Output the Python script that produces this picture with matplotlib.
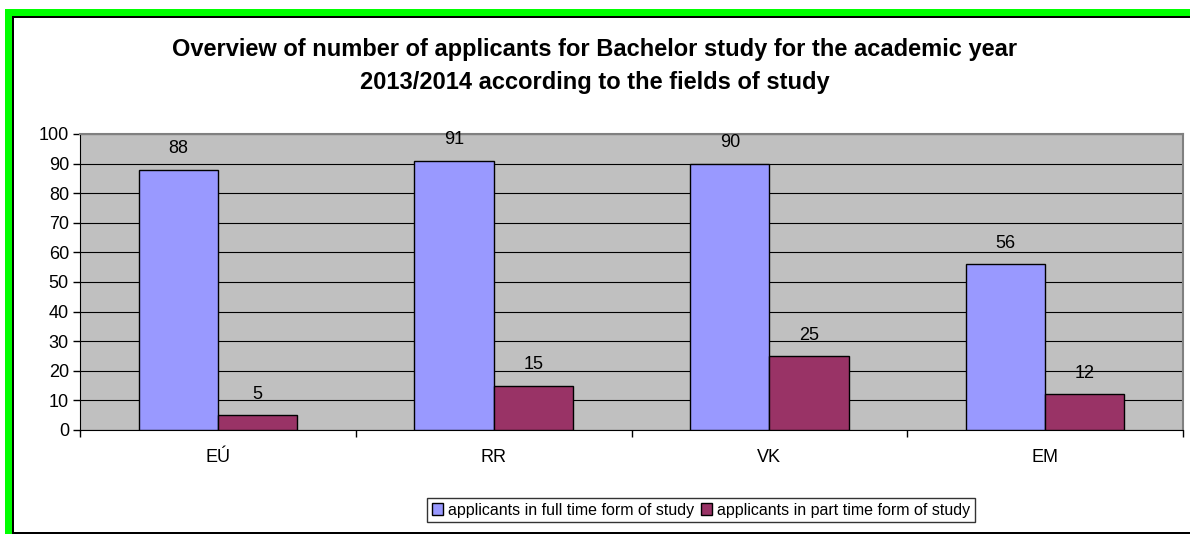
import matplotlib
matplotlib.use("Agg")
import matplotlib.pyplot as plt
import numpy as np
from matplotlib.patches import Rectangle

# data
categories = ["EÚ", "RR", "VK", "EM"]
full_time = [88, 91, 90, 56]
part_time = [5, 15, 25, 12]
series_names = ["applicants in full time form of study",
                "applicants in part time form of study"]
title = ("Overview of number of applicants for Bachelor study for the academic year\n"
         "2013/2014 according to the fields of study")

plt.rcParams['font.family'] = ['Liberation Sans', 'DejaVu Sans']

W, H = 1190, 534
fig = plt.figure(figsize=(W / 100, H / 100), dpi=100)

# green frame + black inner line
fig.patches.append(Rectangle((5 / W, 0), 1, 1 - 9 / H, transform=fig.transFigure,
                             facecolor="#00ff00", edgecolor="none", zorder=-10))
fig.patches.append(Rectangle((12 / W, 0), 1, 1 - 16 / H, transform=fig.transFigure,
                             facecolor="black", edgecolor="none", zorder=-9))
fig.patches.append(Rectangle((13.5 / W, 2.5 / H), 1, 1 - 18 / H - 2.5 / H, transform=fig.transFigure,
                             facecolor="white", edgecolor="none", zorder=-8))

ax = fig.add_axes([80 / W, 1 - 430 / H, (1183 - 80) / W, (430 - 134) / H])
ax.set_zorder(2)
ax.set_facecolor("#c0c0c0")

x = np.arange(len(categories))
bw = 0.287
b1 = ax.bar(x - bw / 2, full_time, bw, color="#9999ff", edgecolor="black", linewidth=1,
            label=series_names[0], zorder=3)
b2 = ax.bar(x + bw / 2, part_time, bw, color="#993366", edgecolor="black", linewidth=1,
            label=series_names[1], zorder=3)
for bars, vals in [(b1, full_time), (b2, part_time)]:
    for r, v in zip(bars, vals):
        ax.text(r.get_x() + r.get_width() / 2, v + 7, str(v), ha="center", va="center",
                fontsize=13, zorder=4, clip_on=False)

ax.set_xlim(-0.5, len(categories) - 0.5)
ax.set_ylim(0, 100)
ax.set_yticks(range(0, 101, 10))
ax.yaxis.grid(True, color="black", linewidth=0.8, zorder=1)
ax.set_axisbelow(True)
ax.set_xticks(x)
ax.set_xticklabels(categories, fontsize=13)
ax.set_xticks(np.arange(-0.5, len(categories)), minor=True)
ax.tick_params(axis="x", which="major", length=0, pad=14)
ax.tick_params(axis="x", which="minor", length=5, width=1, color="black")
ax.tick_params(axis="y", labelsize=13, length=5, width=1, pad=3)
for s in ["top", "right"]:
    ax.spines[s].set_color("#808080")
    ax.spines[s].set_linewidth(1.5)
ax.spines["left"].set_color("black")
ax.spines["bottom"].set_color("black")

fig.text(0.5, 1 - 66 / H, title, ha="center", va="center", fontsize=17,
         fontweight="bold", linespacing=1.6)

leg = fig.legend(handles=[b1, b2], loc="center", bbox_to_anchor=(701 / W, 1 - 510 / H),
                 ncol=2, fontsize=11.5, frameon=True, fancybox=False, edgecolor="black",
                 handlelength=0.7, handleheight=0.7, handletextpad=0.3, columnspacing=0.4,
                 borderpad=0.3)
leg.get_frame().set_linewidth(1)

fig.savefig("out.png", dpi=100)
